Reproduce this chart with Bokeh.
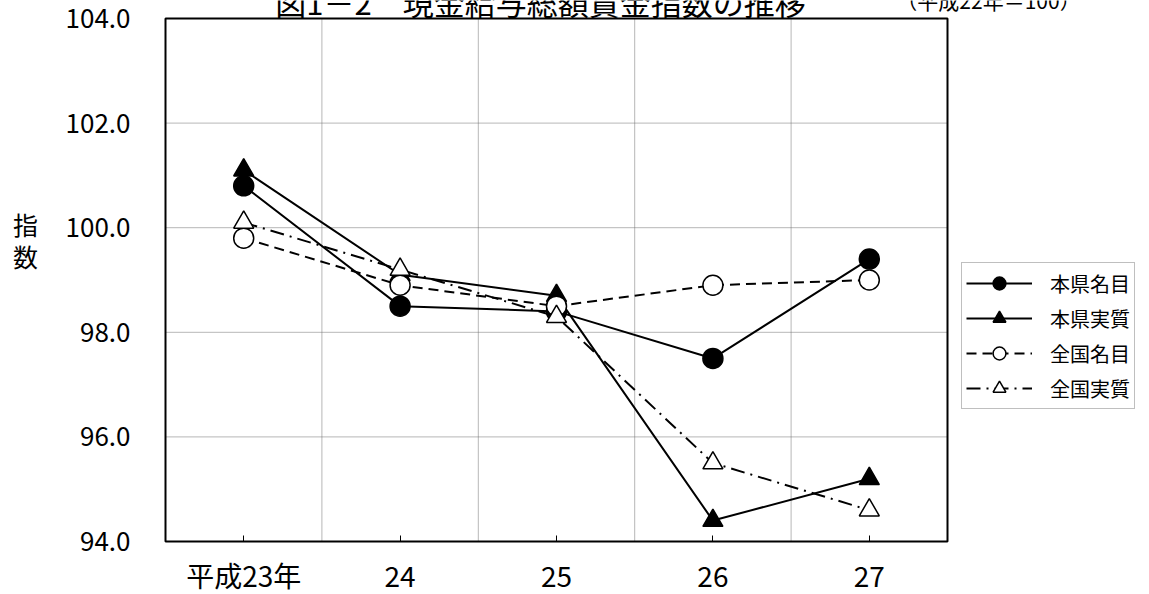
from bokeh.plotting import figure
from bokeh.models import (Range1d, FixedTicker, Legend, LegendItem, Label,
                          NumeralTickFormatter, LinearAxis)
from bokeh.embed import file_html
from bokeh.resources import INLINE

# 年次（平成22年＝100）
years = ["平成23年", "24", "25", "26", "27"]
honken_meimoku = [100.8, 98.5, 98.4, 97.5, 99.4]     # 本県名目
honken_jisshitsu = [101.1, 99.1, 98.7, 94.4, 95.2]   # 本県実質
zenkoku_meimoku = [99.8, 98.9, 98.5, 98.9, 99.0]     # 全国名目
zenkoku_jisshitsu = [100.1, 99.2, 98.3, 95.5, 94.6]  # 全国実質
y_ticks = [94.0, 96.0, 98.0, 100.0, 102.0, 104.0]

FONT = "Noto Sans CJK JP"

# page geometry (px)
W, H = 1149, 594
BOX_LEFT, BOX_BOTTOM = 165, 541   # chart box corner, from the page's top-left
BOX_W, BOX_H = 782, 523

n = len(years)
y0, y1 = y_ticks[0], y_ticks[-1]
xs = [i + 0.5 for i in range(n)]
bounds_x = list(range(1, n))      # category separators

# the frame fills the whole page; the axes are pinned to the chart box
kx = n / BOX_W
ky = (y1 - y0) / BOX_H
x_range = Range1d(-BOX_LEFT * kx, (W - BOX_LEFT) * kx)
y_range = Range1d(y0 - (H - BOX_BOTTOM) * ky, y0 + BOX_BOTTOM * ky)

p = figure(width=W, height=H, output_backend="svg", toolbar_location=None,
           x_range=x_range, y_range=y_range, x_axis_type=None,
           y_axis_type=None, min_border=0)
p.background_fill_color = "white"
p.border_fill_color = "white"
p.outline_line_color = None
p.xgrid.visible = False
p.ygrid.visible = False

xaxis = LinearAxis(fixed_location=y0, bounds=(0, n),
                   ticker=FixedTicker(ticks=xs),
                   major_label_overrides={x: y for x, y in zip(xs, years)},
                   major_tick_in=6, major_tick_out=0,
                   major_tick_line_color="black",
                   minor_tick_line_color=None, axis_line_color=None,
                   major_label_standoff=13,
                   major_label_text_font=FONT,
                   major_label_text_font_size="28px",
                   major_label_text_color="black")
p.add_layout(xaxis, "below")

yaxis = LinearAxis(fixed_location=0, bounds=(y0, y1),
                   ticker=FixedTicker(ticks=y_ticks),
                   formatter=NumeralTickFormatter(format="0.0"),
                   major_tick_in=0, major_tick_out=0,
                   minor_tick_line_color=None, axis_line_color=None,
                   major_label_standoff=35,
                   major_label_text_font=FONT,
                   major_label_text_font_size="26px",
                   major_label_text_color="black")
p.add_layout(yaxis, "left")

# dotted grid inside the chart box
grid_style = dict(line_color="#6e6e6e", line_dash="1 1", line_width=1)
p.segment(x0=[0] * len(y_ticks), y0=y_ticks, x1=[n] * len(y_ticks),
          y1=y_ticks, **grid_style)
p.segment(x0=bounds_x, y0=[y0] * len(bounds_x), x1=bounds_x,
          y1=[y1] * len(bounds_x), **grid_style)

# chart box
p.quad(left=[0], right=[n], bottom=[y0], top=[y1], fill_color=None,
       line_color="black", line_width=2)

series = [
    ("本県名目", honken_meimoku, "solid", "circle", "black"),
    ("本県実質", honken_jisshitsu, "solid", "triangle", "black"),
    ("全国名目", zenkoku_meimoku, "10 6", "circle", "white"),
    ("全国実質", zenkoku_jisshitsu, "14 6 2 6", "triangle", "white"),
]

items = []
for name, vals, dash, marker, fill in series:
    ln = p.line(xs, vals, line_color="black", line_width=2, line_dash=dash)
    sc = p.scatter(xs, vals, marker=marker, size=20, fill_color=fill,
                   line_color="black", line_width=1.5)
    items.append(LegendItem(label=name, renderers=[ln, sc]))

legend = Legend(items=items, location=(961, H - 409), orientation="vertical",
                glyph_width=66, glyph_height=32, spacing=3, padding=4,
                margin=0, label_standoff=18,
                label_text_font=FONT, label_text_font_size="20px",
                label_text_color="black",
                border_line_color="#7f7f7f", border_line_width=1,
                background_fill_color="white", background_fill_alpha=1)
p.add_layout(legend)


def text_label(x, y, text, size):
    # x, y: centre of the text in page pixels from the top-left corner
    p.add_layout(Label(x=x, y=H - y, x_units="screen", y_units="screen",
                       text=text, text_font=FONT, text_font_size=size,
                       text_align="center", text_baseline="middle",
                       text_color="black"))


text_label(540, 1, "図1－2　現金給与総額賃金指数の推移", "31px")
text_label(988, -1, "（平成22年＝100）", "21px")
text_label(25, 223, "指", "25px")
text_label(25, 255, "数", "25px")

open("out.html", "w").write(file_html(p, INLINE))
